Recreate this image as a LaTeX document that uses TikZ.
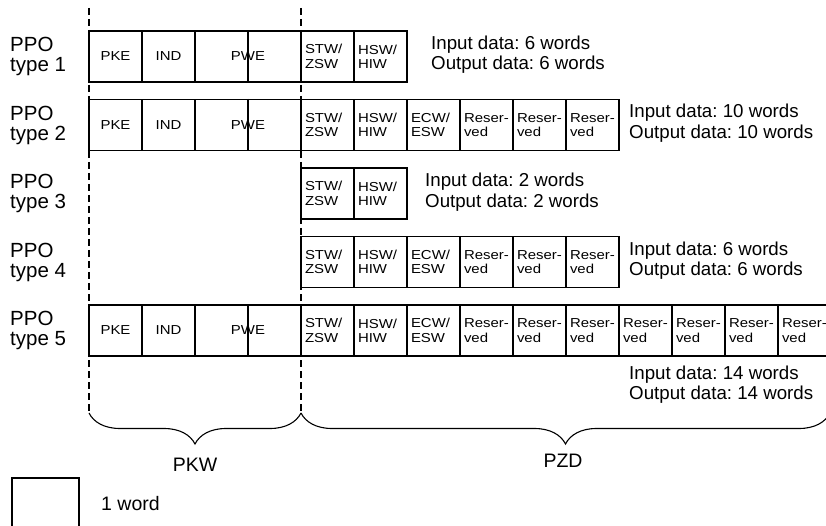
\documentclass[tikz,border=0pt]{standalone}
\usepackage{fontspec}
\setmainfont{Liberation Sans}
\newfontfamily\cellfont[FakeStretch=1.15]{Liberation Sans}
\frenchspacing
\usetikzlibrary{decorations.pathreplacing}
\tikzset{wd/.style = {draw, line width=1.25pt, minimum width=53pt, minimum height=51pt, inner sep=0pt,
                      font=\cellfont\fontsize{13}{14.4}\selectfont},
         ww/.style = {wd, minimum width=106pt},
         tw/.style = {wd, text width=45pt, align=left},
         lbl/.style = {anchor=west, inner sep=0pt, align=left, font=\fontsize{20.5}{20}\selectfont},
         dat/.style = {anchor=west, inner sep=0pt, align=left, font=\fontsize{18.7}{20.5}\selectfont},
         sep/.style = {line width=1.6pt, dash pattern=on 7pt off 4pt},
         brc/.style = {line width=1.1pt, decorate, decoration={brace, amplitude=31pt, mirror}}}

\begin{document}
\begin{tikzpicture}[x=1pt, y=-1pt]
    \useasboundingbox (0,0) rectangle (826,526);
    \clip (0,0) rectangle (826,526);
    % row labels
    \node[lbl] (ppo1) at (10,56.5) {PPO\\type 1};
    \node[lbl] (ppo2) at (10,125) {PPO\\type 2};
    \node[lbl] (ppo3) at (10,193.5) {PPO\\type 3};
    \node[lbl] (ppo4) at (10,262) {PPO\\type 4};
    \node[lbl] (ppo5) at (10,330.5) {PPO\\type 5};
    % type 1
    \node[wd] (pke1) at (115.5,56.5) {PKE}; \node[wd] (ind1) at (168.5,56.5) {IND}; \node[ww] (pwe1) at (248,56.5) {PWE};
    \node[tw] (stw1) at (327.5,56.5) {STW/\\ZSW}; \node[tw] (hsw1) at (380.5,56.5) {HSW/\\HIW};
    % type 2
    \node[wd] (pke2) at (115.5,125) {PKE}; \node[wd] (ind2) at (168.5,125) {IND}; \node[ww] (pwe2) at (248,125) {PWE};
    \node[tw] (stw2) at (327.5,125) {STW/\\ZSW}; \node[tw] (hsw2) at (380.5,125) {HSW/\\HIW};
    \node[tw] (ecw2) at (433.5,125) {ECW/\\ESW}; \node[tw] (res2a) at (486.5,125) {Reser-\\ved};
    \node[tw] (res2b) at (539.5,125) {Reser-\\ved}; \node[tw] (res2c) at (592.5,125) {Reser-\\ved};
    % type 3
    \node[tw] (stw3) at (327.5,193.5) {STW/\\ZSW}; \node[tw] (hsw3) at (380.5,193.5) {HSW/\\HIW};
    % type 4
    \node[tw] (stw4) at (327.5,262) {STW/\\ZSW}; \node[tw] (hsw4) at (380.5,262) {HSW/\\HIW};
    \node[tw] (ecw4) at (433.5,262) {ECW/\\ESW}; \node[tw] (res4a) at (486.5,262) {Reser-\\ved};
    \node[tw] (res4b) at (539.5,262) {Reser-\\ved}; \node[tw] (res4c) at (592.5,262) {Reser-\\ved};
    % type 5
    \node[wd] (pke5) at (115.5,330.5) {PKE}; \node[wd] (ind5) at (168.5,330.5) {IND}; \node[ww] (pwe5) at (248,330.5) {PWE};
    \node[tw] (stw5) at (327.5,330.5) {STW/\\ZSW}; \node[tw] (hsw5) at (380.5,330.5) {HSW/\\HIW};
    \node[tw] (ecw5) at (433.5,330.5) {ECW/\\ESW}; \node[tw] (res5a) at (486.5,330.5) {Reser-\\ved};
    \node[tw] (res5b) at (539.5,330.5) {Reser-\\ved}; \node[tw] (res5c) at (592.5,330.5) {Reser-\\ved};
    \node[tw] (res5d) at (645.5,330.5) {Reser-\\ved}; \node[tw] (res5e) at (698.5,330.5) {Reser-\\ved};
    \node[tw] (res5f) at (751.5,330.5) {Reser-\\ved}; \node[tw] (res5g) at (804.5,330.5) {Reser-\\ved};
    % PWE is two words
    \draw[line width=1.25pt] (pwe1.north) -- (pwe1.south);
    \draw[line width=1.25pt] (pwe2.north) -- (pwe2.south);
    \draw[line width=1.25pt] (pwe5.north) -- (pwe5.south);
    % data sizes
    \node[dat] (data1) at (431,54.5) {Input data: 6 words\\Output data: 6 words};
    \node[dat] (data2) at (629,123) {Input data: 10 words\\Output data: 10 words};
    \node[dat] (data3) at (425,192) {Input data: 2 words\\Output data: 2 words};
    \node[dat] (data4) at (629,260.5) {Input data: 6 words\\Output data: 6 words};
    \node[dat] (data5) at (629,384.5) {Input data: 14 words\\Output data: 14 words};
    % PKW / PZD split
    \coordinate (top1) at (89,8); \coordinate (bot1) at (89,413);
    \coordinate (top2) at (301,8); \coordinate (bot2) at (301,413);
    \coordinate (bot3) at (830,413);
    \draw[sep] (top1) -- (bot1);
    \draw[sep] (top2) -- (bot2);
    \draw[brc] (bot1) -- (bot2);
    \draw[brc] (bot2) -- (bot3);
    \node[font=\fontsize{19.5}{20}\selectfont] (pkw) at (195,465) {PKW};
    \node[font=\fontsize{19.5}{20}\selectfont] (pzd) at (563,461) {PZD};
    % legend
    \node[draw, line width=1.25pt, minimum width=67pt, minimum height=60pt] (leg) at (45.5,508) {};
    \node[dat, font=\fontsize{19.5}{20}\selectfont] (legtxt) at (101,503.5) {1 word};
\end{tikzpicture}
\end{document}
